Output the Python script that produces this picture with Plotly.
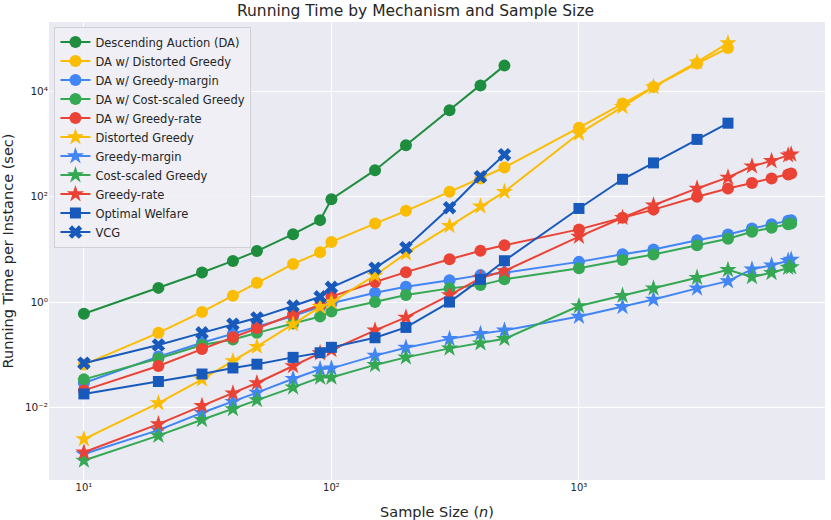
import plotly.graph_objects as go

# Sample sizes
n_vcg = [10, 20, 30, 40, 50, 70, 90, 100, 150, 200, 300, 400, 500]
n_mid = n_vcg + [1000, 1500, 2000, 3000, 4000]
n_long = n_mid + [5000, 6000, 7000, 7200]

# Running times (sec)
da = [0.6, 1.86, 3.65, 6.05, 9.3, 19.5, 36, 90, 320, 950, 4400, 13000, 31000]
da_distorted = [0.065, 0.26, 0.65, 1.32, 2.32, 5.3, 8.8, 13.9, 31, 54, 124, 222, 360,
                2050, 5900, 12200, 34000, 67000]
da_margin = [0.029, 0.092, 0.169, 0.25, 0.35, 0.54, 0.81, 0.95, 1.5, 1.95, 2.6, 3.25, 3.6,
             5.8, 8.1, 10, 15, 19.2, 25, 30, 35, 36]
da_costscaled = [0.034, 0.085, 0.153, 0.195, 0.26, 0.39, 0.53, 0.66, 1.0, 1.36, 1.82, 2.1, 2.7,
                 4.4, 6.3, 8.0, 12, 16, 21.6, 25.7, 30, 31]
da_rate = [0.021, 0.061, 0.128, 0.214, 0.32, 0.58, 0.88, 1.27, 2.4, 3.7, 6.5, 9.4, 12,
           24, 40, 57, 100, 144, 183, 223, 265, 276]
distorted = [0.0025, 0.012, 0.034, 0.076, 0.142, 0.38, 0.81, 1.0, 3.2, 8.4, 28, 66, 124,
             1590, 5100, 12200, 36000, 83000]
margin = [0.0013, 0.0037, 0.0079, 0.0128, 0.019, 0.035, 0.053, 0.055, 0.096, 0.136, 0.2, 0.25, 0.29,
          0.53, 0.81, 1.12, 1.82, 2.5, 4.2, 5.0, 6.1, 6.4]
costscaled = [0.00098, 0.0029, 0.0058, 0.0093, 0.0138, 0.024, 0.037, 0.037, 0.064, 0.089, 0.132, 0.165, 0.2,
              0.84, 1.32, 1.82, 2.9, 4.1, 3.0, 3.6, 4.5, 4.6]
rate = [0.0014, 0.0048, 0.0107, 0.0185, 0.029, 0.061, 0.107, 0.123, 0.29, 0.51, 1.36, 2.85, 3.9,
        17.5, 40, 69, 144, 233, 380, 480, 615, 640]
optimal = [0.018, 0.031, 0.043, 0.056, 0.066, 0.089, 0.109, 0.138, 0.21, 0.33, 1.0, 2.7, 6.1,
           60, 215, 440, 1230, 2500]
vcg = [0.069, 0.153, 0.26, 0.38, 0.50, 0.84, 1.26, 1.9, 4.4, 10.8, 62, 240, 630]

x_tickvals = [10, 100, 1000]
x_ticktext = ["10\u00b9", "10\u00b2", "10\u00b3"]
y_tickvals = [0.01, 1, 100, 10000]
y_ticktext = ["10\u207b\u00b2", "10\u2070", "10\u00b2", "10\u2074"]

series = [
    ("Descending Auction (DA)", n_vcg, da, "#1e8e3e", "circle", 12),
    ("DA w/ Distorted Greedy", n_mid, da_distorted, "#fbbc04", "circle", 12),
    ("DA w/ Greedy-margin", n_long, da_margin, "#4285f4", "circle", 12),
    ("DA w/ Cost-scaled Greedy", n_long, da_costscaled, "#34a853", "circle", 12),
    ("DA w/ Greedy-rate", n_long, da_rate, "#ea4335", "circle", 12),
    ("Distorted Greedy", n_mid, distorted, "#fbbc04", "star", 13),
    ("Greedy-margin", n_long, margin, "#4285f4", "star", 13),
    ("Cost-scaled Greedy", n_long, costscaled, "#34a853", "star", 13),
    ("Greedy-rate", n_long, rate, "#ea4335", "star", 13),
    ("Optimal Welfare", n_mid, optimal, "#185abc", "square", 11),
    ("VCG", n_vcg, vcg, "#185abc", "x", 12),
]

fig = go.Figure()
for name, xs, ys, color, sym, size in series:
    fig.add_trace(go.Scatter(
        x=xs, y=ys, name=name, mode="lines+markers",
        line=dict(color=color, width=2),
        marker=dict(symbol=sym, size=size, color=color, line=dict(width=0)),
    ))

font_family = "DejaVu Sans"
fig.update_layout(
    width=831, height=520,
    margin=dict(l=49, r=6, t=22, b=40, autoexpand=False),
    paper_bgcolor="white",
    plot_bgcolor="#eaeaf2",
    font=dict(family=font_family, color="#262626"),
    title=dict(text="Running Time by Mechanism and Sample Size", x=0.5, xanchor="center",
               xref="container", y=1 - 11 / 520, yanchor="middle",
               font=dict(size=15.5, color="#262626")),
    legend=dict(x=0.007, y=0.99, xanchor="left", yanchor="top",
                bgcolor="rgba(240,240,246,0.85)", bordercolor="#d0d0d8", borderwidth=1,
                font=dict(size=11.5, color="#262626"), itemwidth=30, tracegroupgap=0),
    showlegend=True,
)
fig.update_xaxes(
    type="log", range=[0.859, 3.994], automargin=False,
    tickvals=x_tickvals, ticktext=x_ticktext,
    showgrid=True, gridcolor="white", gridwidth=1, zeroline=False,
    showline=False, ticks="", tickfont=dict(size=10),
    title=dict(text="Sample Size (<i>n</i>)", font=dict(size=14.5)),
)
fig.update_yaxes(
    type="log", range=[-3.38, 5.32], automargin=False,
    tickvals=y_tickvals, ticktext=y_ticktext,
    showgrid=True, gridcolor="white", gridwidth=1, zeroline=False,
    showline=False, ticks="", tickfont=dict(size=10.5),
    title=dict(text="Running Time per Instance (sec)", font=dict(size=14.5)),
)

fig.write_html("out.html", config={"displayModeBar": False},
               post_script="document.body.style.margin='0px';")
